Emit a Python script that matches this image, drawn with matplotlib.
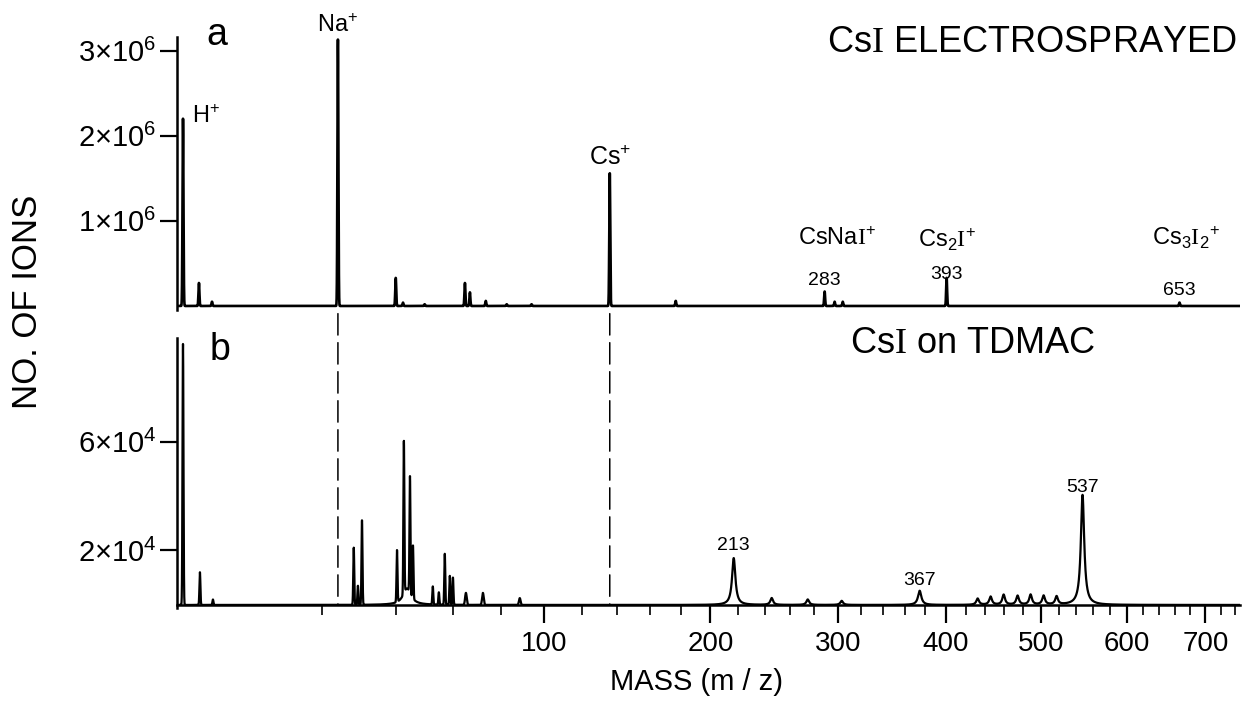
import numpy as np
import matplotlib
matplotlib.use("Agg")
import matplotlib.pyplot as plt
from matplotlib.ticker import FixedLocator, NullLocator
from matplotlib.patches import ConnectionPatch

plt.rcParams['font.family'] = ['Liberation Sans', 'DejaVu Sans']
plt.rcParams['mathtext.fontset'] = 'custom'
plt.rcParams['mathtext.rm'] = 'Liberation Serif'
plt.rcParams['mathtext.sf'] = 'Liberation Sans'
plt.rcParams['mathtext.default'] = 'regular'

# peaks: position (m/z), height, half width (sqrt(m/z) units)
a_pos = [1.05, 2.02, 3.05, 23.8, 39.9, 42.2, 49.5, 64.6, 66.6, 73.2, 82.4, 94.0,
         135.5, 176.4, 288.5, 297.0, 304.0, 400.8, 666.3]
a_height = [2.2e6, 0.27e6, 0.05e6, 3.13e6, 0.33e6, 0.04e6, 0.02e6, 0.27e6, 0.16e6,
            0.06e6, 0.02e6, 0.02e6, 1.56e6, 0.06e6, 0.17e6, 0.05e6, 0.05e6, 0.33e6, 0.04e6]
a_width = [0.012] * len(a_pos)

b_pos = [1.05, 2.09, 3.13, 27.8, 28.9, 30.0, 40.3, 42.5, 43.5, 44.5, 45.5, 52.4, 54.6,
         56.8, 58.7, 59.9, 65.0, 72.0, 88.4, 216.8, 245.5, 274.4, 303.1, 374.4,
         432.3, 445.8, 459.6, 474.6, 488.8, 503.2, 517.8, 547.6]
b_height = [9.58e4, 1.2e4, 0.2e4, 2.1e4, 0.7e4, 3.1e4, 1.9e4, 5.6e4, 0.6e4, 4.3e4, 1.95e4,
            0.66e4, 0.45e4, 1.87e4, 1.06e4, 1.0e4, 0.44e4, 0.44e4, 0.25e4, 1.72e4,
            0.25e4, 0.2e4, 0.15e4, 0.52e4, 0.23e4, 0.3e4, 0.37e4, 0.33e4, 0.37e4,
            0.33e4, 0.3e4, 4.04e4]
b_width = [0.012, 0.012, 0.012, 0.012, 0.012, 0.012, 0.012, 0.012, 0.12, 0.012, 0.012,
           0.012, 0.012, 0.012, 0.012, 0.012, 0.02, 0.02, 0.02, 0.05,
           0.04, 0.04, 0.04, 0.05, 0.04, 0.04, 0.04, 0.04, 0.04,
           0.04, 0.04, 0.05]

x_min, x_max = 0.766, 745.6
major_ticks = [100, 200, 300, 400, 500, 600, 700]
minor_ticks = [m for m in range(20, 760, 20) if m % 100 != 0]


def spectrum(pos, height, width):
    # sharp lines as gaussians, broad ones as lorentzians, on a flight-time grid
    t = np.linspace(np.sqrt(x_min), np.sqrt(x_max), 20000)
    y = np.zeros_like(t)
    for p, h, w in zip(pos, height, width):
        d = t - np.sqrt(p)
        if w < 0.03:
            y += h * np.exp(-0.5 * (d / w) ** 2)
        else:
            y += h * w ** 2 / (d ** 2 + w ** 2)
    return t ** 2, y


fwd = lambda x: np.sqrt(np.clip(x, 0, None))
inv = lambda x: x ** 2

fig = plt.figure(figsize=(12.42, 7.03), dpi=100)
ax_a = fig.add_axes([0.1425, 0.5587, 0.8555, 0.3887])
ax_b = fig.add_axes([0.1425, 0.1356, 0.8555, 0.3836])

for ax in (ax_a, ax_b):
    ax.set_xscale('function', functions=(fwd, inv))
    ax.set_xlim(x_min, x_max)
    for s in ('top', 'right'):
        ax.spines[s].set_visible(False)
    ax.spines['left'].set_linewidth(1.8)
    ax.tick_params(axis='y', direction='out', length=12, width=1.6, pad=3,
                   labelsize=21)

mx, my = spectrum(a_pos, a_height, a_width)
ax_a.plot(mx, my, color='black', lw=1.9)
ax_a.set_ylim(-0.05e6, 3.16e6)
ax_a.spines['bottom'].set_visible(False)
ax_a.xaxis.set_major_locator(NullLocator())
ax_a.xaxis.set_minor_locator(NullLocator())
ax_a.set_yticks([1e6, 2e6, 3e6])
ax_a.set_yticklabels(['1×10$^{6}$', '2×10$^{6}$', '3×10$^{6}$'])

mx, my = spectrum(b_pos, b_height, b_width)
ax_b.plot(mx, my, color='black', lw=1.6)
ax_b.set_ylim(-0.1e4, 9.8e4)
ax_b.spines['bottom'].set_position(('data', 0))
ax_b.spines['bottom'].set_linewidth(1.8)
ax_b.set_yticks([2e4, 6e4])
ax_b.set_yticklabels(['2×10$^{4}$', '6×10$^{4}$'])
ax_b.xaxis.set_major_locator(FixedLocator(major_ticks))
ax_b.xaxis.set_minor_locator(FixedLocator(minor_ticks))
ax_b.set_xticklabels([str(m) for m in major_ticks])
ax_b.tick_params(axis='x', which='major', direction='out', length=13, width=1.6,
                 pad=6, labelsize=20)
ax_b.tick_params(axis='x', which='minor', direction='out', length=7, width=1.2)

# dashed guide lines from Na+ and Cs+ down into panel b
for m in (a_pos[3], a_pos[12]):
    con = ConnectionPatch(xyA=(m, -0.09e6), coordsA=ax_a.transData,
                          xyB=(m, 0), coordsB=ax_b.transData,
                          color='black', lw=1.1, linestyle=(0, (14, 5)))
    fig.add_artist(con)

# panel titles
ax_a.text(0.0376, 0.9707, 'a', transform=ax_a.transAxes, fontsize=27,
          ha='center', va='baseline')
ax_b.text(0.0405, 0.918, 'b', transform=ax_b.transAxes, fontsize=27,
          ha='center', va='baseline')
ax_a.text(0.997, 0.945, r'Cs$\mathrm{I}$ ELECTROSPRAYED', transform=ax_a.transAxes,
          fontsize=26, ha='right', va='baseline')
ax_b.text(0.633, 0.944, r'Cs$\mathrm{I}$ on TDMAC', transform=ax_b.transAxes,
          fontsize=26, ha='left', va='baseline')

# peak labels, panel a
ax_a.text(1.56, 2.15e6, 'H$^{+}$', fontsize=17, ha='left', va='baseline')
ax_a.text(a_pos[3], 3.22e6, 'Na$^{+}$', fontsize=17, ha='center', va='baseline')
ax_a.text(a_pos[12], 1.66e6, 'Cs$^{+}$', fontsize=18, ha='center', va='baseline')
ax_a.text(299, 0.72e6, r'CsNa$\mathrm{I}^{+}$', fontsize=17, ha='center', va='baseline')
ax_a.text(a_pos[17], 0.69e6, r'Cs$_{2}\mathrm{I}^{+}$', fontsize=17, ha='center',
          va='baseline')
ax_a.text(675, 0.72e6, r'Cs$_{3}\mathrm{I}_{2}{}^{+}$', fontsize=17, ha='center',
          va='baseline')
ax_a.text(a_pos[14], 0.25e6, '283', fontsize=14, ha='center', va='baseline')
ax_a.text(a_pos[17], 0.32e6, '393', fontsize=14, ha='center', va='baseline')
ax_a.text(a_pos[18], 0.13e6, '653', fontsize=14, ha='center', va='baseline')

# peak labels, panel b
ax_b.text(b_pos[19], 2.02e4, '213', fontsize=14, ha='center', va='baseline')
ax_b.text(b_pos[23], 0.73e4, '367', fontsize=14, ha='center', va='baseline')
ax_b.text(b_pos[31], 4.15e4, '537', fontsize=14, ha='center', va='baseline')

fig.text(0.0225, 0.570, 'NO. OF IONS', rotation=90, fontsize=25, ha='center',
         va='center')
fig.text(0.561, 0.030, 'MASS (m / z)', fontsize=21, ha='center', va='center')

fig.savefig('out.png', dpi=100)
